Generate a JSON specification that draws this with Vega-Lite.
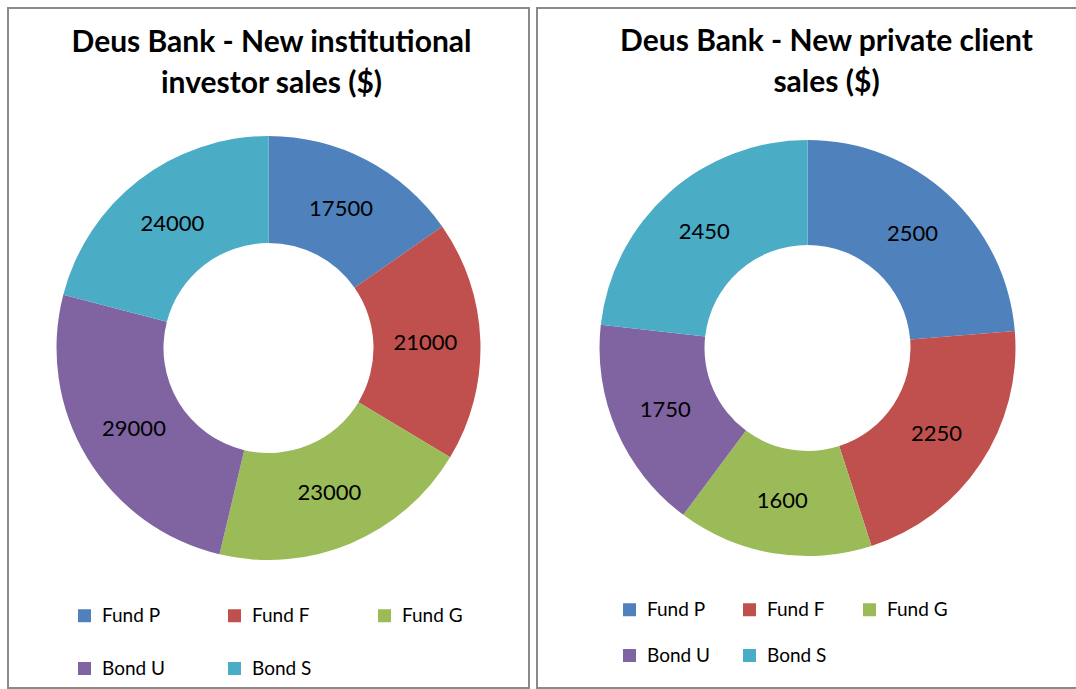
{
  "$schema": "https://vega.github.io/schema/vega-lite/v6.json",
  "padding": {"left": 7, "top": 7, "right": 0, "bottom": 0},
  "autosize": {"type": "pad"},
  "spacing": 6,
  "background": "white",
  "config": {
    "view": {"stroke": "#8a8a8a", "strokeWidth": 2},
    "font": "Lato"
  },
  "datasets": {
    "inst": [
      {"k": 1, "product": "Fund P", "sales": 17500},
      {"k": 2, "product": "Fund F", "sales": 21000},
      {"k": 3, "product": "Fund G", "sales": 23000},
      {"k": 4, "product": "Bond U", "sales": 29000},
      {"k": 5, "product": "Bond S", "sales": 24000}
    ],
    "priv": [
      {"k": 1, "product": "Fund P", "sales": 2500},
      {"k": 2, "product": "Fund F", "sales": 2250},
      {"k": 3, "product": "Fund G", "sales": 1600},
      {"k": 4, "product": "Bond U", "sales": 1750},
      {"k": 5, "product": "Bond S", "sales": 2450}
    ]
  },
  "resolve": {"scale": {"color": "independent"}, "legend": {"color": "independent"}},
  "hconcat": [
    {
      "width": 521,
      "height": 680,
      "data": {"name": "inst"},
      "title": {
        "text": ["Deus Bank - New institutional", "investor sales ($)"],
        "fontSize": 30, "font": "Lato", "fontWeight": "bold", "color": "#000",
        "anchor": "middle", "frame": "group", "baseline": "top",
        "offset": -92, "lineHeight": 41, "dx": 3
      },
      "layer": [
        {
          "mark": {"type": "rect", "filled": false, "stroke": "#8a8a8a", "strokeWidth": 2},
          "encoding": {}
        },
        {
          "mark": {"type": "arc", "innerRadius": 105, "outerRadius": 212},
          "encoding": {
            "theta": {"field": "sales", "type": "quantitative", "stack": true},
            "order": {"field": "k", "type": "quantitative"},
            "color": {
              "field": "product", "type": "nominal",
              "scale": {
                "domain": ["Fund P", "Fund F", "Fund G", "Bond U", "Bond S"],
                "range": ["#4F81BD", "#C0504D", "#9BBB59", "#8064A2", "#4BACC6"]
              },
              "legend": {
                "orient": "none", "legendX": 67, "legendY": 598, "direction": "horizontal",
                "columns": 3, "symbolType": "square", "symbolSize": 169,
                "symbolStrokeWidth": 0, "labelFontSize": 19, "labelFont": "Lato",
                "labelColor": "#000", "title": null, "columnPadding": 60,
                "rowPadding": 33, "gridAlign": "all", "labelOffset": 8
              }
            }
          }
        },
        {
          "mark": {"type": "text", "radius": 157, "fontSize": 22, "color": "#000", "font": "Lato"},
          "encoding": {
            "theta": {"field": "sales", "type": "quantitative", "stack": true},
            "order": {"field": "k", "type": "quantitative"},
            "text": {"field": "sales", "type": "quantitative", "format": "d"}
          }
        }
      ]
    },
    {
      "width": 541,
      "height": 680,
      "data": {"name": "priv"},
      "title": {
        "text": ["Deus Bank - New private client", "sales ($)"],
        "fontSize": 30, "font": "Lato", "fontWeight": "bold", "color": "#000",
        "anchor": "middle", "frame": "group", "baseline": "top",
        "offset": -91, "lineHeight": 41, "dx": 19
      },
      "layer": [
        {
          "mark": {"type": "rect", "filled": false, "stroke": "#8a8a8a", "strokeWidth": 2},
          "encoding": {}
        },
        {
          "mark": {"type": "arc", "innerRadius": 103, "outerRadius": 208},
          "encoding": {
            "theta": {"field": "sales", "type": "quantitative", "stack": true},
            "order": {"field": "k", "type": "quantitative"},
            "color": {
              "field": "product", "type": "nominal",
              "scale": {
                "domain": ["Fund P", "Fund F", "Fund G", "Bond U", "Bond S"],
                "range": ["#4F81BD", "#C0504D", "#9BBB59", "#8064A2", "#4BACC6"]
              },
              "legend": {
                "orient": "none", "legendX": 83, "legendY": 592, "direction": "horizontal",
                "columns": 3, "symbolType": "square", "symbolSize": 169,
                "symbolStrokeWidth": 0, "labelFontSize": 19, "labelFont": "Lato",
                "labelColor": "#000", "title": null, "columnPadding": 30,
                "rowPadding": 26, "gridAlign": "all", "labelOffset": 8
              }
            }
          }
        },
        {
          "mark": {"type": "text", "radius": 155, "fontSize": 22, "color": "#000", "font": "Lato"},
          "encoding": {
            "theta": {"field": "sales", "type": "quantitative", "stack": true},
            "order": {"field": "k", "type": "quantitative"},
            "text": {"field": "sales", "type": "quantitative", "format": "d"}
          }
        }
      ]
    }
  ]
}
